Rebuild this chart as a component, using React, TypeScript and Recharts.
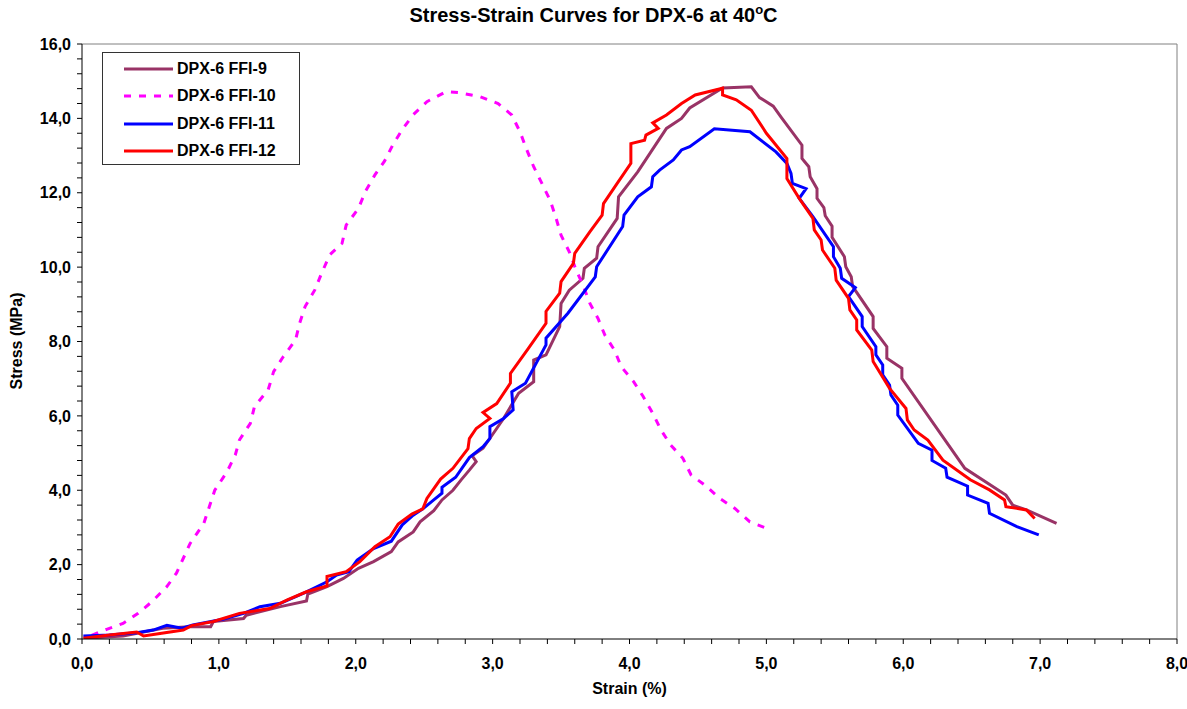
import React from 'react';
import { LineChart, Line, XAxis, YAxis, ReferenceLine } from 'recharts';

const FONT = "Arial, 'Liberation Sans', sans-serif";

// strain (%) / stress (MPa) pairs
const ffi9Strain = [0.02, 0.3, 0.59, 0.79, 0.94, 0.96, 1.18, 1.2, 1.45, 1.64, 1.65, 1.79, 1.91, 2.02, 2.13, 2.26, 2.31, 2.42, 2.47, 2.57, 2.63, 2.71, 2.77, 2.83, 2.88, 2.85, 2.93, 3.08, 3.19, 3.3, 3.3, 3.39, 3.49, 3.5, 3.56, 3.66, 3.67, 3.76, 3.77, 3.91, 3.92, 4.06, 4.27, 4.38, 4.44, 4.68, 4.89, 4.95, 5.05, 5.11, 5.26, 5.26, 5.31, 5.32, 5.37, 5.37, 5.42, 5.43, 5.48, 5.48, 5.57, 5.58, 5.62, 5.63, 5.78, 5.78, 5.88, 5.88, 5.99, 5.99, 6.45, 6.75, 6.8, 6.9, 7.12];
const ffi9Stress = [0.02, 0.08, 0.29, 0.33, 0.33, 0.47, 0.55, 0.64, 0.87, 1.02, 1.21, 1.41, 1.63, 1.9, 2.08, 2.35, 2.61, 2.88, 3.15, 3.45, 3.74, 4.0, 4.28, 4.54, 4.77, 4.93, 5.13, 5.93, 6.61, 6.92, 7.5, 7.64, 8.4, 9.02, 9.38, 9.7, 9.97, 10.24, 10.55, 11.31, 11.89, 12.56, 13.73, 14.0, 14.28, 14.82, 14.85, 14.56, 14.33, 14.02, 13.28, 12.92, 12.7, 12.43, 12.11, 11.85, 11.6, 11.38, 11.1, 10.8, 10.28, 10.01, 9.74, 9.48, 8.67, 8.35, 7.86, 7.55, 7.28, 7.01, 4.59, 3.87, 3.6, 3.47, 3.11];

const ffi10Strain = [0.07, 0.18, 0.3, 0.41, 0.51, 0.62, 0.69, 0.79, 0.89, 0.97, 1.06, 1.12, 1.15, 1.23, 1.26, 1.36, 1.4, 1.47, 1.56, 1.59, 1.63, 1.7, 1.75, 1.81, 1.9, 1.93, 2.02, 2.07, 2.14, 2.21, 2.27, 2.34, 2.42, 2.52, 2.66, 2.76, 2.91, 3.04, 3.14, 3.2, 3.25, 3.3, 3.36, 3.42, 3.46, 3.5, 3.56, 3.61, 3.66, 3.71, 3.77, 3.82, 3.89, 3.94, 4.03, 4.1, 4.17, 4.23, 4.3, 4.39, 4.45, 4.55, 4.66, 4.77, 4.88, 5.0];
const ffi10Stress = [0.1, 0.26, 0.42, 0.69, 1.0, 1.41, 1.77, 2.57, 3.11, 4.0, 4.5, 4.95, 5.35, 5.8, 6.25, 6.7, 7.19, 7.59, 8.04, 8.49, 8.94, 9.38, 9.83, 10.33, 10.64, 11.13, 11.58, 12.03, 12.48, 12.85, 13.28, 13.7, 14.1, 14.45, 14.72, 14.69, 14.58, 14.4, 14.09, 13.64, 13.15, 12.7, 12.25, 11.8, 11.36, 10.86, 10.41, 9.92, 9.52, 9.03, 8.62, 8.17, 7.77, 7.32, 6.92, 6.52, 6.07, 5.62, 5.22, 4.86, 4.41, 4.14, 3.78, 3.51, 3.15, 2.98];

const ffi11Strain = [0.01, 0.2, 0.4, 0.52, 0.62, 0.73, 0.81, 1.03, 1.18, 1.3, 1.45, 1.64, 1.79, 1.86, 1.95, 2.01, 2.13, 2.26, 2.34, 2.42, 2.49, 2.57, 2.63, 2.63, 2.73, 2.83, 2.93, 2.98, 2.98, 3.08, 3.15, 3.14, 3.24, 3.39, 3.39, 3.55, 3.75, 3.76, 3.95, 3.96, 4.06, 4.16, 4.17, 4.22, 4.32, 4.38, 4.44, 4.62, 4.88, 5.07, 5.15, 5.18, 5.19, 5.29, 5.24, 5.34, 5.49, 5.49, 5.54, 5.55, 5.65, 5.6, 5.7, 5.7, 5.8, 5.8, 5.85, 5.85, 5.9, 5.91, 5.96, 5.96, 6.11, 6.21, 6.21, 6.31, 6.32, 6.47, 6.47, 6.62, 6.63, 6.83, 6.99];
const ffi11Stress = [0.08, 0.11, 0.17, 0.24, 0.37, 0.29, 0.38, 0.53, 0.69, 0.87, 0.96, 1.27, 1.54, 1.72, 1.81, 2.12, 2.43, 2.63, 3.07, 3.33, 3.5, 3.74, 3.92, 4.08, 4.35, 4.88, 5.17, 5.39, 5.71, 5.93, 6.16, 6.65, 6.88, 7.91, 8.09, 8.76, 9.74, 10.01, 11.09, 11.4, 11.89, 12.16, 12.43, 12.61, 12.88, 13.15, 13.24, 13.72, 13.64, 13.1, 12.79, 12.52, 12.25, 12.11, 11.85, 11.36, 10.55, 10.28, 9.97, 9.7, 9.45, 9.21, 8.67, 8.4, 7.86, 7.64, 7.37, 7.1, 6.83, 6.56, 6.29, 6.02, 5.26, 5.08, 4.8, 4.59, 4.35, 4.11, 3.87, 3.65, 3.38, 3.02, 2.8];

const ffi12Strain = [0.01, 0.2, 0.4, 0.45, 0.57, 0.74, 0.8, 0.96, 1.15, 1.37, 1.5, 1.64, 1.79, 1.79, 1.93, 2.03, 2.14, 2.25, 2.31, 2.41, 2.49, 2.52, 2.62, 2.71, 2.82, 2.83, 2.88, 2.98, 2.93, 3.03, 3.13, 3.13, 3.26, 3.39, 3.39, 3.49, 3.5, 3.59, 3.6, 3.71, 3.8, 3.81, 3.91, 4.01, 4.01, 4.11, 4.12, 4.21, 4.17, 4.27, 4.38, 4.48, 4.68, 4.68, 4.78, 4.89, 5.0, 5.15, 5.15, 5.24, 5.34, 5.35, 5.4, 5.41, 5.5, 5.51, 5.6, 5.61, 5.66, 5.66, 5.77, 5.78, 5.9, 6.02, 6.03, 6.08, 6.18, 6.29, 6.49, 6.63, 6.74, 6.75, 6.9, 6.96];
const ffi12Stress = [0.02, 0.11, 0.19, 0.08, 0.15, 0.24, 0.36, 0.47, 0.69, 0.82, 1.05, 1.27, 1.43, 1.68, 1.81, 2.08, 2.48, 2.75, 3.09, 3.36, 3.5, 3.78, 4.3, 4.59, 5.12, 5.39, 5.66, 5.93, 6.09, 6.33, 6.88, 7.14, 7.81, 8.49, 8.81, 9.3, 9.61, 10.1, 10.37, 10.95, 11.4, 11.71, 12.25, 12.79, 13.32, 13.41, 13.55, 13.73, 13.88, 14.09, 14.4, 14.63, 14.81, 14.63, 14.5, 14.22, 13.6, 12.92, 12.38, 11.85, 11.31, 11.0, 10.73, 10.46, 9.97, 9.65, 9.16, 8.85, 8.58, 8.31, 7.77, 7.46, 6.74, 6.2, 5.89, 5.62, 5.35, 4.81, 4.28, 4.01, 3.74, 3.56, 3.47, 3.24];

const seriesNames = ['DPX-6 FFI-9', 'DPX-6 FFI-10', 'DPX-6 FFI-11', 'DPX-6 FFI-12'];
const xMajor = [0, 1, 2, 3, 4, 5, 6, 7, 8];
const yMajor = [0, 2, 4, 6, 8, 10, 12, 14, 16];

// minor ticks: every 0.2 on strain, every 0.4 on stress
const xTicks = Array.from({ length: 41 }, (_, i) => Math.round(i * 2) / 10);
const yTicks = Array.from({ length: 41 }, (_, i) => Math.round(i * 4) / 10);

const toPoints = (xs: number[], ys: number[]) => xs.map((x, i) => ({ x, y: ys[i] }));

const series = [
  { name: seriesNames[0], data: toPoints(ffi9Strain, ffi9Stress), color: '#993366', dash: undefined },
  { name: seriesNames[1], data: toPoints(ffi10Strain, ffi10Stress), color: '#FF00FF', dash: '7 8' },
  { name: seriesNames[2], data: toPoints(ffi11Strain, ffi11Stress), color: '#0000FF', dash: undefined },
  { name: seriesNames[3], data: toPoints(ffi12Strain, ffi12Stress), color: '#FF0000', dash: undefined },
];

const fmt = (v: number) => v.toFixed(1).replace('.', ',');
const near = (v: number, list: number[]) => list.some((m) => Math.abs(m - v) < 1e-6);

const tickStyle = { fill: '#000', fontSize: 16, fontWeight: 700, fontFamily: FONT };

function LegendBox() {
  return (
    <div
      style={{
        position: 'absolute',
        left: 102,
        top: 52,
        boxSizing: 'border-box',
        border: '1px solid #333',
        background: '#fff',
        width: 198,
        height: 113,
        paddingTop: 2,
        fontFamily: FONT,
        fontWeight: 700,
        fontSize: 16,
      }}
    >
      {series.map((s) => (
        <div key={s.name} style={{ display: 'flex', alignItems: 'center', height: 27.5 }}>
          <svg width={74} height={10} style={{ flex: 'none' }}>
            <line x1={21} y1={5} x2={70} y2={5} stroke={s.color} strokeWidth={3} strokeDasharray={s.dash} />
          </svg>
          <span>{s.name}</span>
        </div>
      ))}
    </div>
  );
}

export default function App() {
  return (
    <div style={{ position: 'absolute', left: 0, top: 0, width: 1187, height: 709, background: '#fff', fontFamily: FONT }}>
      <div
        style={{
          position: 'absolute',
          top: 2,
          left: 0,
          width: 1187,
          textAlign: 'center',
          fontSize: 20,
          fontWeight: 700,
        }}
      >
        Stress-Strain Curves for DPX-6 at 40<sup style={{ fontSize: 13 }}>o</sup>C
      </div>
      <LineChart width={1187} height={709} margin={{ top: 44, right: 10, bottom: 30, left: 0 }}>
        <XAxis
          type="number"
          dataKey="x"
          domain={[0, 8]}
          ticks={xTicks}
          interval={0}
          tickFormatter={(v: number) => (near(v, xMajor) ? fmt(v) : '')}
          tick={tickStyle}
          tickSize={5}
          tickMargin={14}
          height={40}
          axisLine={{ stroke: '#000' }}
          tickLine={{ stroke: '#000' }}
          allowDataOverflow
        />
        <YAxis
          type="number"
          dataKey="y"
          domain={[0, 16]}
          ticks={yTicks}
          interval={0}
          tickFormatter={(v: number) => (near(v, yMajor) ? fmt(v) : '')}
          tick={tickStyle}
          tickSize={5}
          tickMargin={6}
          width={82}
          axisLine={{ stroke: '#000' }}
          tickLine={{ stroke: '#000' }}
          allowDataOverflow
        />
        <ReferenceLine y={16} stroke="#808080" />
        <ReferenceLine x={8} stroke="#808080" />
        {series.map((s) => (
          <Line
            key={s.name}
            data={s.data}
            dataKey="y"
            name={s.name}
            stroke={s.color}
            strokeWidth={3}
            strokeDasharray={s.dash}
            dot={false}
            activeDot={false}
            isAnimationActive={false}
          />
        ))}
      </LineChart>
      <LegendBox />
      <div
        style={{
          position: 'absolute',
          left: 0,
          width: 1259,
          top: 680,
          textAlign: 'center',
          fontSize: 16,
          fontWeight: 700,
        }}
      >
        Strain (%)
      </div>
      <div
        style={{
          position: 'absolute',
          left: 17,
          top: 341,
          transform: 'translate(-50%, -50%) rotate(-90deg)',
          whiteSpace: 'nowrap',
          fontSize: 16,
          fontWeight: 700,
        }}
      >
        Stress (MPa)
      </div>
    </div>
  );
}
